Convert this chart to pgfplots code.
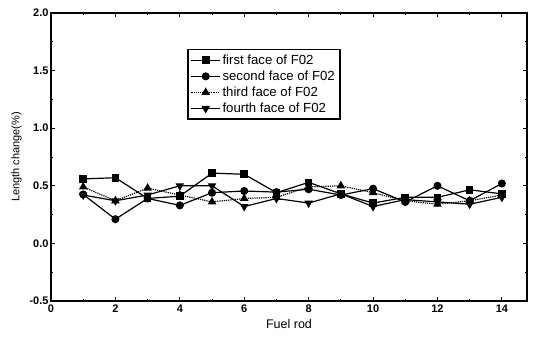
\documentclass[border=0pt]{standalone}
\usepackage{fontspec}
\setmainfont{Liberation Sans}
\usepackage{pgfplots}
\pgfplotsset{compat=1.18}
\begin{document}
\begin{tikzpicture}
\path[use as bounding box] (-51pt,-41pt) rectangle (482pt,301pt);
\begin{axis}[
  scale only axis, width=476pt, height=288pt,
  xmin=0, xmax=14.78, ymin=-0.5, ymax=2.0,
  xtick={0,2,...,14}, ytick={-0.5,0,0.5,1.0,1.5,2.0},
  minor xtick={1,3,...,13}, minor ytick={-0.25,0.25,0.75,1.25,1.75},
  yticklabel style={/pgf/number format/fixed,/pgf/number format/fixed zerofill,/pgf/number format/precision=1, xshift=1pt},
  /pgf/number format/assume math mode=true,
  tick align=inside, major tick length=4pt, minor tick length=2pt,
  tick style={black, line width=0.9pt},
  axis line style={line width=1.6pt},
  ticklabel style={font=\fontsize{11}{12}\selectfont\bfseries},
  xticklabel style={yshift=0pt},
  xlabel={Fuel rod}, ylabel={Length change(\%)},
  xlabel style={font=\fontsize{12.5}{13}\selectfont, yshift=0pt},
  ylabel style={font=\fontsize{11}{12}\selectfont, yshift=1pt},
  legend style={at={(0.286,0.875)}, anchor=north west, draw=black, line width=1.5pt,
    font=\fontsize{13.2}{14}\selectfont, row sep=1pt, inner sep=3pt,
    /tikz/every even column/.append style={column sep=5pt}},
  legend image post style={line width=1.2pt},
  legend image code/.code={\draw[mark repeat=2,mark phase=2] plot coordinates {(0cm,0cm) (0.5cm,0cm) (1.0cm,0cm)};},
  legend cell align=left,
  every axis plot/.append style={black, line width=1.2pt},
]
\addplot[mark=square*, mark size=3.2pt, mark options={solid}] coordinates {
(1,0.56)(2,0.57)(3,0.39)(4,0.41)(5,0.61)(6,0.60)(7,0.44)(8,0.53)(9,0.43)(10,0.35)(11,0.40)(12,0.40)(13,0.465)(14,0.43)};
\addlegendentry{first face of F02}
\addplot[mark=*, mark size=3.4pt, mark options={solid}] coordinates {
(1,0.425)(2,0.21)(3,0.39)(4,0.33)(5,0.44)(6,0.455)(7,0.445)(8,0.47)(9,0.42)(10,0.475)(11,0.36)(12,0.50)(13,0.37)(14,0.52)};
\addlegendentry{second face of F02}
\addplot[densely dotted, mark=triangle*, mark size=3.8pt, mark options={solid}] coordinates {
(1,0.49)(2,0.37)(3,0.48)(4,0.42)(5,0.36)(6,0.39)(7,0.40)(8,0.49)(9,0.50)(10,0.44)(11,0.37)(12,0.34)(13,0.37)(14,0.42)};
\addlegendentry{third face of F02}
\addplot[mark=triangle*, mark size=3.8pt, mark options={solid, rotate=180}] coordinates {
(1,0.42)(2,0.37)(3,0.42)(4,0.50)(5,0.50)(6,0.32)(7,0.39)(8,0.35)(9,0.43)(10,0.32)(11,0.38)(12,0.36)(13,0.34)(14,0.40)};
\addlegendentry{fourth face of F02}
\end{axis}
\end{tikzpicture}
\end{document}
